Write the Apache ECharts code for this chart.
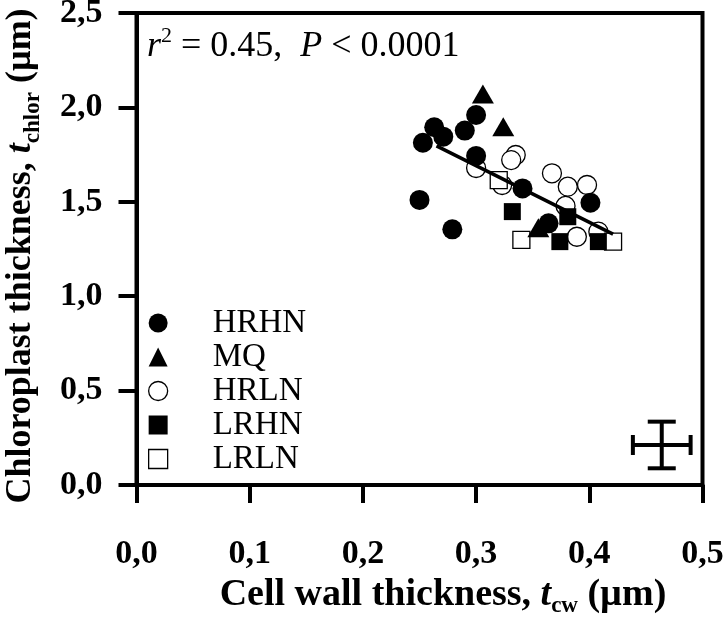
<!DOCTYPE html>
<html>
<head>
<meta charset="utf-8">
<script src="https://cdn.jsdelivr.net/npm/echarts@6/dist/echarts.min.js"></script>
<style>
html, body { margin: 0; padding: 0; background: #fff; }
#chart { width: 725px; height: 618px; }
</style>
</head>
<body>
<div id="chart"></div>
<script>
// points: [cell wall thickness, chloroplast thickness]
var hrhn = [[0.300, 1.960], [0.263, 1.895], [0.271, 1.845], [0.290, 1.877], [0.253, 1.813],
            [0.300, 1.743], [0.341, 1.571], [0.250, 1.510], [0.279, 1.354], [0.401, 1.495], [0.364, 1.386]];
var mq = [[0.306, 2.071], [0.324, 1.898], [0.355, 1.362]];
var hrln = [[0.335, 1.748], [0.331, 1.721], [0.300, 1.679], [0.323, 1.589], [0.367, 1.651],
            [0.381, 1.580], [0.398, 1.589], [0.379, 1.478], [0.389, 1.315], [0.408, 1.342]];
var lrhn = [[0.332, 1.448], [0.381, 1.421], [0.374, 1.289], [0.408, 1.289]];
var lrln = [[0.320, 1.615], [0.340, 1.298], [0.421, 1.289]];

// regression line ends
var fitX = [0.265, 0.421];
var fitY = [1.796, 1.329];

// error cross: x, y, x error, y error
var errCross = [[0.464, 0.212, 0.0255, 0.1235]];

var font = 'Liberation Serif';
var fmt = function (v) { return v.toFixed(1).replace('.', ','); };

var myChart = echarts.init(document.getElementById('chart'));

var fitData = [];
for (var i = 0; i < fitX.length; i++) fitData.push([fitX[i], fitY[i]]);

var titleRich = function (size) {
    return {
        b: { fontFamily: font, fontSize: size, fontWeight: 'bold', lineHeight: 42, verticalAlign: 'top', color: '#000' },
        t: { fontFamily: font, fontSize: size, fontWeight: 'bold', fontStyle: 'italic', lineHeight: 42, verticalAlign: 'top', color: '#000' },
        sub: { fontFamily: font, fontSize: 23, fontWeight: 'bold', lineHeight: 22, verticalAlign: 'bottom', color: '#000' }
    };
};

var option = {
    backgroundColor: '#fff',
    animation: false,
    grid: {
        left: 136.5, right: 22.5, top: 13, bottom: 133,
        outerBoundsMode: 'none',
        show: true, borderColor: '#000', borderWidth: 4
    },
    legend: {
        data: [
            { name: 'HRHN' },
            { name: 'MQ' },
            { name: 'HRLN', itemStyle: { color: '#fff', borderColor: '#000', borderWidth: 1.3 } },
            { name: 'LRHN' },
            { name: 'LRLN', itemStyle: { color: '#fff', borderColor: '#000', borderWidth: 1.3 } }
        ],
        orient: 'vertical',
        left: 143, top: 301,
        itemWidth: 19, itemHeight: 19, itemGap: 0,
        selectedMode: false,
        textStyle: { fontFamily: font, fontSize: 33, lineHeight: 34, color: '#000', padding: [0, 0, 0, 40] }
    },
    graphic: [{
        type: 'text', left: 147, top: 25,
        style: {
            text: '{i|r}{s|2}{n| = 0.45,  }{i|P}{n| < 0.0001}',
            fill: '#000',
            rich: {
                n: { fontFamily: font, fontSize: 36, lineHeight: 40, verticalAlign: 'bottom', fill: '#000' },
                i: { fontFamily: font, fontSize: 36, lineHeight: 40, fontStyle: 'italic', verticalAlign: 'bottom', fill: '#000' },
                s: { fontFamily: font, fontSize: 22, lineHeight: 22, verticalAlign: 'top', fill: '#000' }
            }
        }
    }],
    xAxis: {
        type: 'value', min: 0, max: 0.5, interval: 0.1,
        name: '{b|Cell wall thickness, }{t|t}{sub|cw}{b| (µm)}',
        nameLocation: 'middle', nameGap: 88,
        nameTextStyle: { padding: [0, 0, 0, 47], rich: titleRich(38) },
        axisLine: { lineStyle: { color: '#000', width: 4 } },
        axisTick: { length: 18, lineStyle: { color: '#000', width: 4 } },
        axisLabel: { formatter: fmt, margin: 52, fontFamily: font, fontSize: 34, fontWeight: 'bold', color: '#000' },
        splitLine: { show: false }
    },
    yAxis: {
        type: 'value', min: 0, max: 2.5, interval: 0.5,
        name: '{b|Chloroplast thickness, }{t|t}{sub|chlor}{b| (µm)}',
        nameLocation: 'middle', nameGap: 92,
        nameTextStyle: { padding: [0, 14, 0, 0], rich: titleRich(36) },
        axisLine: { lineStyle: { color: '#000', width: 4 } },
        axisTick: { length: 18, lineStyle: { color: '#000', width: 4 } },
        axisLabel: { formatter: fmt, margin: 34, fontFamily: font, fontSize: 34, fontWeight: 'bold', color: '#000' },
        splitLine: { show: false }
    },
    series: [
        {
            name: 'HRLN', type: 'scatter', data: hrln, symbol: 'circle', symbolSize: 19,
            itemStyle: { color: '#fff', borderColor: '#000', borderWidth: 1.3, opacity: 1 }
        },
        {
            name: 'LRLN', type: 'scatter', data: lrln, symbol: 'rect', symbolSize: 17,
            itemStyle: { color: '#fff', borderColor: '#000', borderWidth: 1.3, opacity: 1 }
        },
        {
            name: 'HRHN', type: 'scatter', data: hrhn, symbol: 'circle', symbolSize: 20,
            itemStyle: { color: '#000', opacity: 1 }
        },
        {
            name: 'MQ', type: 'scatter', data: mq, symbol: 'triangle', symbolSize: [22, 19],
            itemStyle: { color: '#000', opacity: 1 }
        },
        {
            name: 'LRHN', type: 'scatter', data: lrhn, symbol: 'rect', symbolSize: 17,
            itemStyle: { color: '#000', opacity: 1 }
        },
        {
            name: 'fit', type: 'line', data: fitData, symbol: 'none',
            lineStyle: { color: '#000', width: 3.5 }
        },
        {
            name: 'err', type: 'custom', data: errCross,
            renderItem: function (params, api) {
                var x = api.value(0), y = api.value(1), ex = api.value(2), ey = api.value(3);
                var l = api.coord([x - ex, y]), r = api.coord([x + ex, y]);
                var t = api.coord([x, y + ey]), b = api.coord([x, y - ey]);
                var st = { stroke: '#000', lineWidth: 4 };
                return {
                    type: 'group',
                    children: [
                        { type: 'line', shape: { x1: l[0], y1: l[1], x2: r[0], y2: r[1] }, style: st },
                        { type: 'line', shape: { x1: t[0], y1: t[1], x2: b[0], y2: b[1] }, style: st },
                        { type: 'line', shape: { x1: l[0], y1: l[1] - 10, x2: l[0], y2: l[1] + 10 }, style: st },
                        { type: 'line', shape: { x1: r[0], y1: r[1] - 10, x2: r[0], y2: r[1] + 10 }, style: st },
                        { type: 'line', shape: { x1: t[0] - 14, y1: t[1], x2: t[0] + 14, y2: t[1] }, style: st },
                        { type: 'line', shape: { x1: b[0] - 14, y1: b[1], x2: b[0] + 14, y2: b[1] }, style: st }
                    ]
                };
            }
        }
    ]
};
myChart.setOption(option);
</script>
</body>
</html>
